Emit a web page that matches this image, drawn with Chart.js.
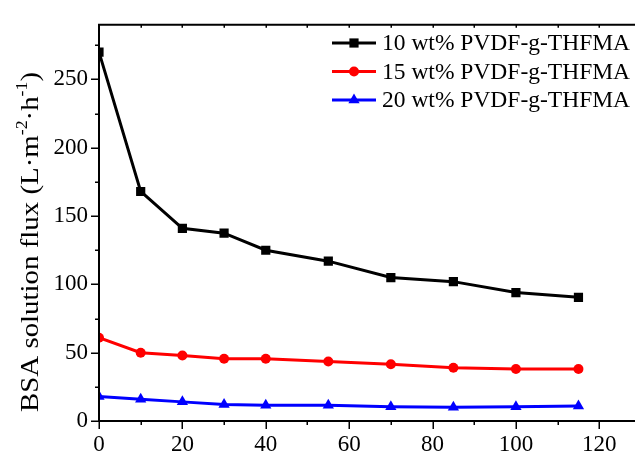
<!DOCTYPE html>
<html>
<head>
<meta charset="utf-8">
<script src="https://cdn.jsdelivr.net/npm/chart.js@4.4.0/dist/chart.umd.min.js"></script>
<style>
  html, body { margin: 0; padding: 0; background: #fff; overflow: hidden; }
  #wrap { width: 650px; height: 458px; }
</style>
</head>
<body>
<div id="wrap"><canvas id="flux" width="650" height="458"></canvas></div>
<script>
// filtration time (min)
const times = [0, 10, 20, 30, 40, 55, 70, 85, 100, 115];
// BSA solution flux, L·m-2·h-1
const flux10 = [270, 168, 141, 137.5, 125, 117, 105, 102, 94, 90.5];
const flux15 = [61, 50, 48, 45.5, 45.5, 43.5, 41.5, 39, 38, 38];
const flux20 = [18, 16, 14, 12, 11.5, 11.5, 10.5, 10, 10.5, 11];
const seriesNames = ['10 wt% PVDF-g-THFMA', '15 wt% PVDF-g-THFMA', '20 wt% PVDF-g-THFMA'];

const serif = '"Liberation Serif", "Times New Roman", serif';

function pts(ys) {
    return times.map((t, i) => ({ x: t, y: ys[i] }));
}

function series(label, ys, color, style, radius) {
    return {
        label: label,
        data: pts(ys),
        borderColor: color,
        backgroundColor: color,
        borderWidth: 3,
        pointStyle: style,
        pointRadius: radius,
        pointBorderWidth: 0,
        pointBackgroundColor: color,
        tension: 0,
        clip: 0
    };
}

// frame, tick marks, y title and legend are drawn by hand
const frame = {
    id: 'frame',
    afterDraw(chart) {
        const ctx = chart.ctx;
        const area = chart.chartArea;
        const xs = chart.scales.x;
        const ys = chart.scales.y;
        ctx.save();
        ctx.strokeStyle = '#000';
        ctx.lineWidth = 2;
        ctx.beginPath();
        ctx.moveTo(area.left, area.top);
        ctx.lineTo(area.right, area.top);
        ctx.moveTo(area.left, area.top - 1);
        ctx.lineTo(area.left, area.bottom + 1);
        ctx.moveTo(area.left - 1, area.bottom);
        ctx.lineTo(area.right, area.bottom);
        ctx.stroke();

        ctx.lineWidth = 1.5;
        ctx.beginPath();
        for (let v = 0; v <= xs.max; v += 10) {
            const px = Math.round(xs.getPixelForValue(v)) + 0.25;
            const len = v % 20 === 0 ? 8 : 4;
            ctx.moveTo(px, area.bottom);
            ctx.lineTo(px, area.bottom + len);
            ctx.moveTo(px, area.top);
            ctx.lineTo(px, area.top + 3);
        }
        for (let v = 0; v <= ys.max; v += 25) {
            const py = Math.round(ys.getPixelForValue(v)) + 0.25;
            const len = v % 50 === 0 ? 8 : 4;
            ctx.moveTo(area.left, py);
            ctx.lineTo(area.left - len, py);
        }
        ctx.stroke();

        // y axis title with superscripts, stretched to span 340px
        const parts = [
            ['BSA solution flux (L\u00b7m', false],
            ['-2', true],
            ['\u00b7h', false],
            ['-1', true],
            [')', false]
        ];
        const fontFor = sup => (sup ? '16px ' : '26px ') + serif;
        let total = 0;
        parts.forEach(([txt, sup]) => {
            ctx.font = fontFor(sup);
            total += ctx.measureText(txt).width;
        });
        ctx.translate(38, 412);
        ctx.rotate(-Math.PI / 2);
        ctx.scale(340 / total, 1);
        ctx.fillStyle = '#000';
        ctx.textBaseline = 'alphabetic';
        ctx.textAlign = 'left';
        let pos = 0;
        parts.forEach(([txt, sup]) => {
            ctx.font = fontFor(sup);
            ctx.fillText(txt, pos, sup ? -11 : 0);
            pos += ctx.measureText(txt).width;
        });
        ctx.restore();

        // legend: line segment with marker, then name
        ctx.save();
        ctx.font = '23.5px ' + serif;
        ctx.textBaseline = 'middle';
        chart.data.datasets.forEach((ds, i) => {
            const y = 43 + i * 28.5;
            ctx.strokeStyle = ds.borderColor;
            ctx.lineWidth = 3;
            ctx.beginPath();
            ctx.moveTo(332, y);
            ctx.lineTo(376, y);
            ctx.stroke();
            ctx.fillStyle = ds.backgroundColor;
            Chart.helpers.drawPoint(ctx, {
                pointStyle: ds.pointStyle,
                radius: ds.pointRadius,
                borderWidth: 0,
                rotation: 0
            }, 354, y);
            ctx.fillStyle = '#000';
            ctx.fillText(ds.label, 382, y + 1);
        });
        ctx.restore();
    }
};

new Chart(document.getElementById('flux'), {
    type: 'line',
    data: {
        datasets: [
            series(seriesNames[0], flux10, '#000000', 'rect', 6.5),
            series(seriesNames[1], flux15, '#ff0000', 'circle', 5),
            series(seriesNames[2], flux20, '#0000ff', 'triangle', 6.5)
        ]
    },
    options: {
        responsive: false,
        devicePixelRatio: 1,
        animation: false,
        layout: { padding: { left: 0, top: 16, right: 9, bottom: 0 } },
        plugins: {
            legend: { display: false },
            tooltip: { enabled: false }
        },
        scales: {
            x: {
                type: 'linear',
                min: 0,
                max: 130,
                grid: { display: false, drawTicks: false },
                border: { display: false },
                ticks: {
                    stepSize: 20,
                    includeBounds: false,
                    padding: 10,
                    color: '#000',
                    font: { family: serif, size: 23 }
                },
                afterFit(scale) { scale.height = 37; }
            },
            y: {
                min: 0,
                max: 290,
                grid: { display: false, drawTicks: false },
                border: { display: false },
                ticks: {
                    stepSize: 50,
                    includeBounds: false,
                    padding: 11,
                    color: '#000',
                    font: { family: serif, size: 23 }
                },
                afterFit(scale) { scale.width = 99; }
            }
        }
    },
    plugins: [frame]
});
</script>
</body>
</html>
